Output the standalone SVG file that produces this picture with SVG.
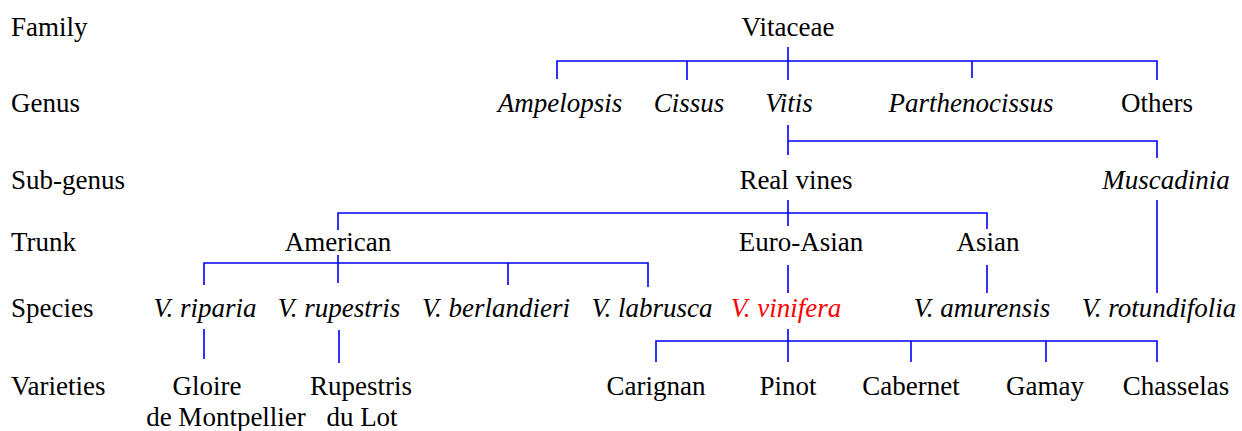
<svg xmlns="http://www.w3.org/2000/svg" width="1242" height="431" viewBox="0 0 1242 431" font-family="'Liberation Serif', Tinos, 'Times New Roman', 'DejaVu Serif', serif" font-size="27">
<style>
.n text{text-anchor:middle}
.i{font-style:italic}
.red{fill:#ff0000}
#connectors path{fill:none;stroke:#0000ff;stroke-width:1.6}
</style>
<rect width="1242" height="431" fill="#fff"/>
<g id="levels">
<text x="11" y="36">Family</text>
<text x="11" y="112">Genus</text>
<text x="11" y="189">Sub-genus</text>
<text x="11" y="251">Trunk</text>
<text x="11" y="317">Species</text>
<text x="11" y="395">Varieties</text>
</g>
<g id="connectors">
<path d="M557,79V61H1157V80M687,61V80M788,47V80M972,61V78"/>
<path d="M788,125V155M788,141H1157V158"/>
<path d="M1157,200V293"/>
<path d="M788,200V226M338,230V213H987V229"/>
<path d="M338,255V283M204,285V263H648V287M508,263V285"/>
<path d="M788,265V293M987,265V293"/>
<path d="M204,329V359M339,330V363"/>
<path d="M656,362V341H1157V362M788,329V362M911,341V362M1046,341V362"/>
</g>
<g class="n" id="vitaceae"><text x="788" y="36">Vitaceae</text></g>
<g class="n" id="ampelopsis"><text class="i" x="560" y="112">Ampelopsis</text></g>
<g class="n" id="cissus"><text class="i" x="689" y="112">Cissus</text></g>
<g class="n" id="vitis"><text class="i" x="789" y="112">Vitis</text></g>
<g class="n" id="parthenocissus"><text class="i" x="971" y="112">Parthenocissus</text></g>
<g class="n" id="others"><text x="1157" y="112">Others</text></g>
<g class="n" id="realvines"><text x="796" y="189">Real vines</text></g>
<g class="n" id="muscadinia"><text class="i" x="1166" y="189">Muscadinia</text></g>
<g class="n" id="american"><text x="338" y="251">American</text></g>
<g class="n" id="euroasian"><text x="801" y="251">Euro-Asian</text></g>
<g class="n" id="asian"><text x="988" y="251">Asian</text></g>
<g class="n" id="riparia"><text class="i" x="205" y="317">V. riparia</text></g>
<g class="n" id="rupestris"><text class="i" x="339" y="317">V. rupestris</text></g>
<g class="n" id="berlandieri"><text class="i" x="496" y="317">V. berlandieri</text></g>
<g class="n" id="labrusca"><text class="i" x="652" y="317">V. labrusca</text></g>
<g class="n" id="vinifera"><text class="i red" x="786" y="317">V. vinifera</text></g>
<g class="n" id="amurensis"><text class="i" x="982" y="317">V. amurensis</text></g>
<g class="n" id="rotundifolia"><text class="i" x="1159" y="317">V. rotundifolia</text></g>
<g class="n" id="gloire"><text x="207" y="395">Gloire</text><text x="226" y="426">de Montpellier</text></g>
<g class="n" id="rupestrisdulot"><text x="361" y="395">Rupestris</text><text x="362" y="426">du Lot</text></g>
<g class="n" id="carignan"><text x="656" y="395">Carignan</text></g>
<g class="n" id="pinot"><text x="788" y="395">Pinot</text></g>
<g class="n" id="cabernet"><text x="911" y="395">Cabernet</text></g>
<g class="n" id="gamay"><text x="1045" y="395">Gamay</text></g>
<g class="n" id="chasselas"><text x="1176" y="395">Chasselas</text></g>
</svg>
